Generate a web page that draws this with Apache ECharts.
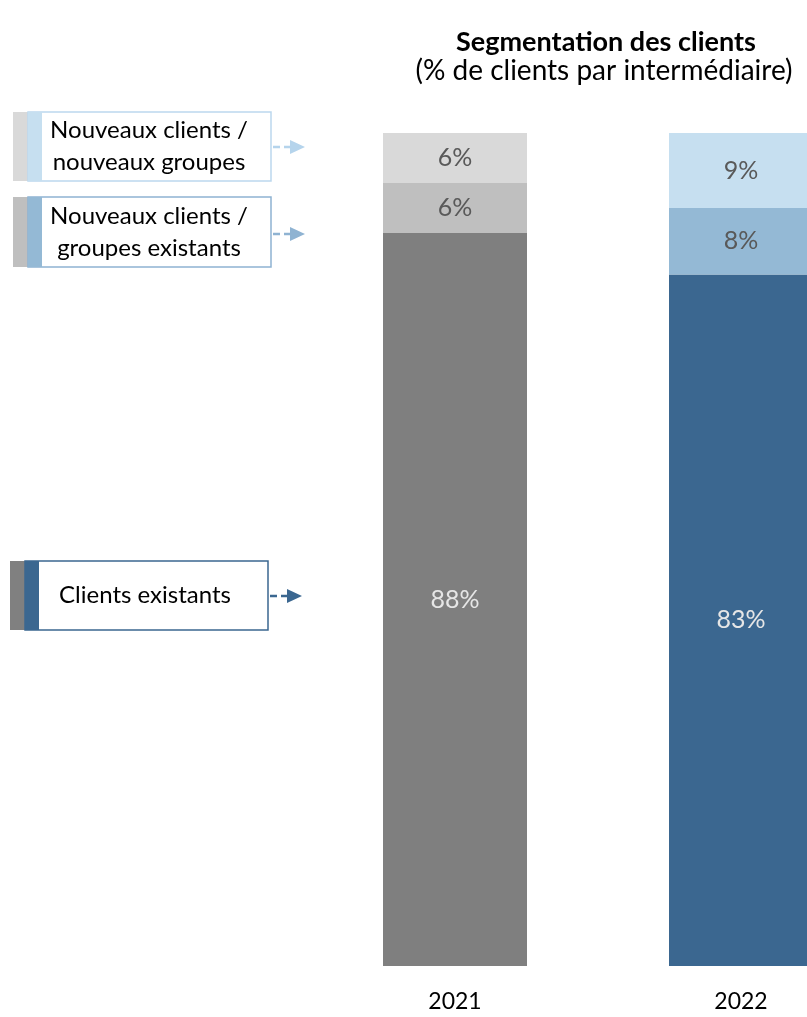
<!DOCTYPE html>
<html>
<head>
<meta charset="utf-8">
<script src="https://cdn.jsdelivr.net/npm/echarts@6/dist/echarts.min.js"></script>
<style>
  html, body { margin: 0; padding: 0; background: #ffffff; }
  #chart { width: 807px; height: 1017px; }
</style>
</head>
<body>
<div id="chart"></div>
<script>
// Years shown on the category axis
const categories = ['2021', '2022'];

// Share of clients per segment (%)
const clientsExistants = [88, 83];
const groupesExistants = [6, 8];
const nouveauxGroupes = [6, 9];

// Segment names (legend boxes on the left)
const segmentNames = ['Nouveaux clients /\nnouveaux groupes', 'Nouveaux clients /\ngroupes existants', 'Clients existants'];

// Colours per year: 2021 in greys, 2022 in blues
const palette = {
  existants: ['#7f7f7f', '#3b6790'],
  groupesExist: ['#bfbfbf', '#94b9d5'],
  nouveaux: ['#d9d9d9', '#c6dff0']
};

const FONT = 'Lato, "Open Sans", sans-serif';

const chart = echarts.init(document.getElementById('chart'));

function segment(name, data, colors, labelColor) {
  return {
    name: name,
    type: 'bar',
    stack: 'total',
    barWidth: 144,
    data: data,
    itemStyle: { color: p => colors[p.dataIndex] },
    label: {
      show: true,
      position: 'inside',
      formatter: '{c}%',
      fontFamily: FONT,
      fontSize: 25,
      color: labelColor
    },
    emphasis: { disabled: true }
  };
}

// Legend box: two colour strips, framed label and a dashed arrow
function legendBox(x, y, h, grey, blue, border, text, textX, arrowX, arrowY, arrowColor) {
  return [
    { type: 'rect', shape: { x: x, y: y, width: 15, height: h }, style: { fill: grey } },
    { type: 'rect', shape: { x: x + 15, y: y, width: 243, height: h },
      style: { fill: '#ffffff', stroke: border, lineWidth: 1.5 } },
    { type: 'rect', shape: { x: x + 15, y: y, width: 14, height: h }, style: { fill: blue } },
    { type: 'text', x: textX, y: y + h / 2,
      style: { text: text, font: '24px ' + FONT, fill: '#000000', align: 'center',
               verticalAlign: 'middle', lineHeight: 32 } },
    { type: 'line', shape: { x1: arrowX, y1: arrowY, x2: arrowX + 18, y2: arrowY },
      style: { stroke: arrowColor, lineWidth: 2.5, lineDash: [7, 4] } },
    { type: 'polygon',
      shape: { points: [[arrowX + 17, arrowY - 7], [arrowX + 32, arrowY], [arrowX + 17, arrowY + 7]] },
      style: { fill: arrowColor } }
  ];
}

const option = {
  animation: false,
  backgroundColor: '#ffffff',
  // Plot area runs past the right edge, so the 2022 bar is partly cut off
  grid: { left: 312, width: 572, top: 133, bottom: 51, outerBoundsMode: 'none', containLabel: false },
  xAxis: {
    type: 'category',
    data: categories,
    axisLine: { show: false },
    axisTick: { show: false },
    axisLabel: { margin: 24, fontFamily: FONT, fontSize: 23, color: '#000000' }
  },
  yAxis: { type: 'value', min: 0, max: 100, show: false },
  series: [
    segment('Clients existants', clientsExistants, palette.existants, '#e6e6e6'),
    segment('Nouveaux clients / groupes existants', groupesExistants, palette.groupesExist, '#595959'),
    segment('Nouveaux clients / nouveaux groupes', nouveauxGroupes, palette.nouveaux, '#595959')
  ],
  graphic: [].concat(
    [
      { type: 'text', x: 606, y: 42,
        style: { text: 'Segmentation des clients', font: 'bold 27px ' + FONT, fill: '#000000',
                 align: 'center', verticalAlign: 'middle' } },
      { type: 'text', x: 604, y: 71,
        style: { text: '(% de clients par intermédiaire)', font: '28px ' + FONT, fill: '#000000',
                 align: 'center', verticalAlign: 'middle' } }
    ],
    legendBox(13, 112, 69, '#d9d9d9', '#c6dff0', '#bcd8ee', segmentNames[0], 149, 273, 147, '#b5d4ec'),
    legendBox(13, 197, 70, '#bfbfbf', '#94b9d5', '#8fb3d2', segmentNames[1], 149, 273, 234, '#8fb3d2'),
    legendBox(10, 561, 69, '#808080', '#3b6790', '#3b6790', segmentNames[2], 145, 270, 596, '#3b6790')
  )
};

chart.setOption(option);
</script>
</body>
</html>
